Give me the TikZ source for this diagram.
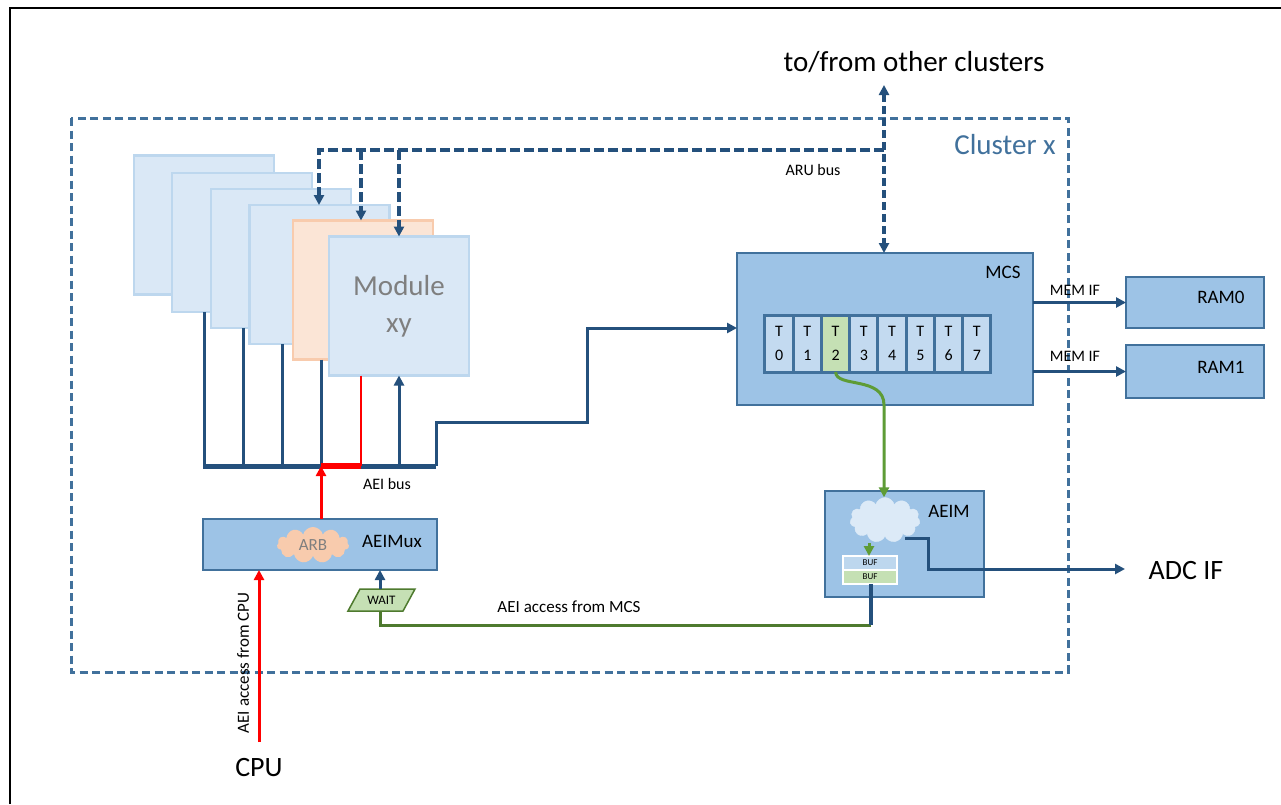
\documentclass[tikz,border=0pt]{standalone}
\usepackage{fontspec}
\setmainfont{Carlito}
\usetikzlibrary{arrows.meta,shapes.symbols,calc}
\definecolor{dblue}{HTML}{24507C}
\definecolor{bborder}{HTML}{41719C}
\definecolor{bfill}{HTML}{9DC3E6}
\definecolor{mfill}{HTML}{DAE8F6}
\definecolor{mborder}{HTML}{BDD7EE}
\definecolor{ofill}{HTML}{FBE5D6}
\definecolor{oborder}{HTML}{F8CBAD}
\definecolor{gfill}{HTML}{C5E0B4}
\definecolor{gline}{HTML}{4E7A2E}
\definecolor{tgreen}{HTML}{5E9C36}
\definecolor{cellfill}{HTML}{C3DAF0}
\definecolor{cloudfill}{HTML}{DCEAF7}
\definecolor{txtgray}{HTML}{7F7F7F}
\begin{document}
\begin{tikzpicture}[x=1pt,y=-1pt,
  fs/.style={font=\fontsize{#1}{#1}\selectfont},
  stack/.style={draw=mborder, fill=mfill, line width=2.5pt, minimum width=140pt, minimum height=139pt, inner sep=0pt, outer sep=0pt},
  blk/.style={draw=bborder, fill=bfill, line width=2.5pt, inner sep=0pt, outer sep=0pt},
  cell/.style={draw=bborder, fill=cellfill, line width=3pt, minimum width=28.25pt, minimum height=57pt, inner sep=0pt, outer sep=0pt, align=center, font=\fontsize{16}{24}\selectfont},
  conn/.style={draw=dblue, line width=3pt},
  arr/.style={-{Triangle[length=10pt,width=10pt]}},
  darr/.style={{Triangle[length=10pt,width=10pt]}-{Triangle[length=10pt,width=10pt]}},
  arudash/.style={draw=dblue, line width=4.5pt, dash pattern=on 10pt off 4pt},
  txt/.style={inner sep=0pt}
]
\useasboundingbox (0,0) rectangle (1281,804);
\fill[white] (0,0) rectangle (1281,804);
% page frame
\draw[black, line width=1.5pt] (10,804) -- (10,8) -- (1281,8);

% cluster
\draw[bborder, line width=3pt, dash pattern=on 8pt off 4.5pt] (71,118) rectangle (1068,672);
\node[txt, fs=29, text=bborder] (clx) at (1005,145) {Cluster x};
\node[txt, fs=29] (other) at (914,62) {to/from other clusters};

% module stack
\node[stack] (m1) at (204,225) {};
\node[stack] (m2) at (242,242.5) {};
\node[stack] (m3) at (281,258.5) {};
\node[stack] (m4) at (319.5,274.5) {};
\node[stack, draw=oborder, fill=ofill] (mo) at (363,290) {};
\node[stack, text=txtgray, align=center, font=\fontsize{29}{37}\selectfont] (mxy) at (399,306) {Module\\xy};

% ARU bus
\coordinate (cl) at (884,85);
\coordinate (aruR) at (884,150);
\coordinate (a1) at (319,150);
\coordinate (a2) at (361,150);
\coordinate (a3) at (399,150);
\draw[arudash, arr] (aruR) -- (a1) -- (a1 |- m4.north);
\draw[arudash, arr] (a2) -- (a2 |- mo.north);
\draw[arudash, arr] (a3) -- (a3 |- mxy.north);
\node[txt, fs=16] (arulbl) at (813,170) {ARU bus};

% MCS
\node[blk, minimum width=296pt, minimum height=152pt] (mcs) at (885,329) {};
\node[txt, fs=19] (mcslbl) at (1003,272) {MCS};
\foreach \i in {0,...,7} {
  \node[cell] (t\i) at ({779.1+28.25*\i},343.5) {T\\\i};
}
\node[cell, fill=gfill] (t2) at ({779.1+28.25*2},343.5) {T\\2};
\draw[arudash, darr, line width=3.5pt, dash pattern=on 8pt off 4pt] (cl) -- (cl |- mcs.north);

% RAMs
\node[blk, minimum width=138pt, minimum height=51pt] (ram0) at (1195,302.5) {};
\node[txt, fs=19] (ram0t) at (1221,297) {RAM0};
\node[blk, minimum width=138pt, minimum height=53pt] (ram1) at (1195,371.5) {};
\node[txt, fs=19] (ram1t) at (1221,367) {RAM1};
\draw[conn, arr] (mcs.east |- ram0) -- (ram0.west);
\draw[conn, arr] (mcs.east |- ram1) -- (ram1.west);
\node[txt, fs=16] (mem0) at (1075,290) {MEM IF};
\node[txt, fs=16] (mem1) at (1075,356) {MEM IF};

% AEI bus
\coordinate (busL) at (203,466);
\coordinate (busR) at (436,466);
\coordinate (b1) at (204,466);
\coordinate (b2) at (243,466);
\coordinate (b3) at (282,466);
\coordinate (b4) at (321,466);
\coordinate (r1) at (361,466);
\coordinate (b6) at (399,466);
\coordinate (s1) at (436,422);
\coordinate (s2) at (587,422);
\coordinate (s3) at (587,328);
\draw[conn] (b1 |- m2.south) -- (b1);
\draw[conn] (b2 |- m3.south) -- (b2);
\draw[conn] (b3 |- m4.south) -- (b3);
\draw[conn] (b4 |- mo.south) -- (b4);
\draw[conn, arr] (b6) -- (b6 |- mxy.south);
\draw[conn, line width=5pt] (busL) -- (busR);
\draw[conn, arr] (busR) -- (s1) -- (s2) -- (s3) -- (s3 -| mcs.west);
\draw[red, line width=2.5pt] (r1 |- mxy.south) -- (r1);
\draw[red, line width=6pt] (b4) -- (r1);
\node[txt, fs=16] (aeibus) at (387,484) {AEI bus};

% AEIMux
\node[blk, minimum width=234pt, minimum height=51pt] (aeimux) at (320,544.5) {};
\node[cloud, cloud puffs=11, aspect=2, fill=oborder, draw=none, minimum width=72pt, minimum height=36pt, inner sep=0pt, text=txtgray, fs=17] (arb) at (313,545) {ARB};
\node[txt, fs=19] (aeimuxlbl) at (392,541) {AEIMux};
\draw[red, line width=3pt, arr] (b4 |- aeimux.north) -- (b4);

% CPU
\node[txt, fs=28] (cpu) at (259,768) {CPU};
\coordinate (cpuTop) at (259,742);
\draw[red, line width=3pt, arr] (cpuTop) -- (cpuTop |- aeimux.south);
\node[txt, fs=17, rotate=90] (cpulbl) at (243,663) {AEI access from CPU};

% WAIT
\fill[gfill] (348,611) -- (360,589) -- (415,589) -- (403,611) -- cycle;
\draw[gline, line width=1.5pt] (348,611) -- (360,589) -- (415,589) -- (403,611) -- cycle;
\node[txt, fs=13] (wait) at (381.5,600) {WAIT};
\coordinate (wt) at (380,589);
\coordinate (wb) at (380,611);
\draw[conn, arr] (wt) -- (wt |- aeimux.south);

% AEIM
\node[blk, minimum width=159pt, minimum height=106pt] (aeim) at (904.5,544) {};
\node[txt, fs=19] (aeimlbl) at (949,511) {AEIM};
\node[cloud, cloud puffs=11, aspect=1.6, fill=cloudfill, draw=cloudfill, minimum width=70pt, minimum height=45pt, inner sep=0pt] (acloud) at (885,520) {};
\node[draw=white, line width=1.5pt, fill=mborder, minimum width=54pt, minimum height=14pt, inner sep=0pt, outer sep=0pt, fs=9] (buf1) at (870,563) {BUF};
\node[draw=white, line width=1.5pt, fill=gfill, minimum width=54pt, minimum height=14pt, inner sep=0pt, outer sep=0pt, fs=9] (buf2) at (870,577) {BUF};
\coordinate (cb) at (869,543);
\draw[tgreen, line width=3pt, arr] (cb) -- (cb |- buf1.north);
\coordinate (co) at (905,538);
\coordinate (co2) at (928,538);
\coordinate (co3) at (928,569);
\coordinate (adcend) at (1125,569);
\draw[conn, arr] (co) -- (co2) -- (co3) -- (adcend);
\node[txt, fs=28] (adc) at (1186,570) {ADC IF};

% T2 to AEIM
\coordinate (tg) at (884,405);
\draw[tgreen, line width=3pt, arr] (t2.south) .. controls (836,388) and (884,376) .. (tg) -- (tg |- acloud.north);

% AEI access from MCS
\coordinate (m1c) at (380,625);
\coordinate (m2c) at (871,625);
\draw[gline, line width=3pt] (wb) -- (m1c) -- (m2c);
\draw[conn, line width=3.5pt] (m2c) -- (m2c |- buf2.south);
\node[txt, fs=17] (mcsacc) at (569,607) {AEI access from MCS};
\end{tikzpicture}
\end{document}
